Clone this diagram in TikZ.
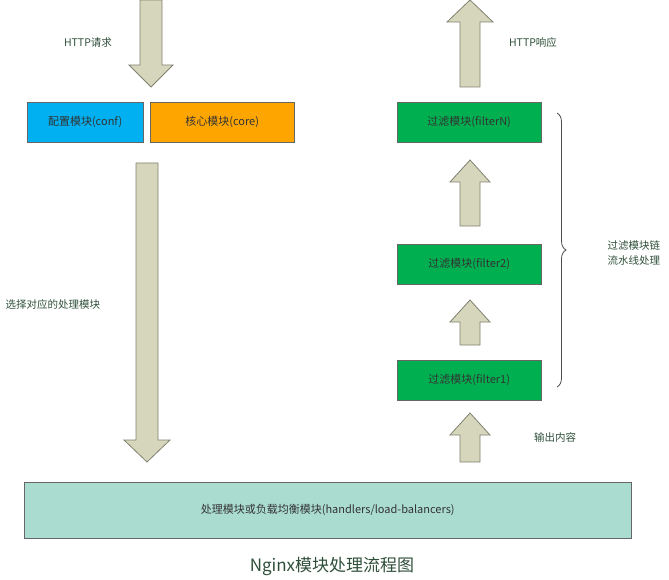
\documentclass[tikz,border=0pt]{standalone}
\usepackage{fontspec}
\setmainfont{Noto Sans CJK SC}
\usetikzlibrary{decorations.pathreplacing}
\definecolor{confblue}{HTML}{00B0F0}
\definecolor{coreorange}{HTML}{FFA500}
\definecolor{filtergreen}{HTML}{00B050}
\definecolor{handlerteal}{HTML}{AADCD0}
\definecolor{arrowfill}{HTML}{D6D6BC}
\definecolor{labelgreen}{HTML}{2F4F3A}
% fat arrow: x centre, start y, tip y, half shaft, half head
\newcommand{\fatarrow}[5]{%
\pgfmathsetmacro{\hy}{#3+(#2>#3?1:-1)*22}%
\draw[arrowfill!60!black,fill=arrowfill,line width=0.8pt]
 (#1-#4,#2)--(#1-#4,\hy)--(#1-#5,\hy)--(#1,#3)--(#1+#5,\hy)--(#1+#4,\hy)--(#1+#4,#2)--cycle;}
\begin{document}
\begin{tikzpicture}[x=1pt,y=-1pt,
  modbox/.style={draw=black!60,minimum height=40pt,anchor=north west,inner sep=0pt,font=\fontsize{11}{13}\selectfont,text=black!80},
  lbl/.style={text=labelgreen,font=\fontsize{10.5}{15}\selectfont}]
\useasboundingbox (0,0) rectangle (669,580);
\node[modbox,fill=confblue,minimum width=116pt] (conf) at (27,102) {配置模块(conf)};
\node[modbox,fill=coreorange,minimum width=144pt] (core) at (150,102) {核心模块(core)};
\node[modbox,fill=filtergreen,minimum width=144pt] (fN) at (397,102) {过滤模块(filterN)};
\node[modbox,fill=filtergreen,minimum width=144pt] (f2) at (397,244) {过滤模块(filter2)};
\node[modbox,fill=filtergreen,minimum width=144pt] (f1) at (397,360) {过滤模块(filter1)};
\node[modbox,fill=handlerteal,minimum width=607pt,minimum height=56pt] (hdl) at (24,482) {处理模块或负载均衡模块(handlers/load-balancers)};

\fatarrow{151}{0}{87}{11}{22}
\fatarrow{147}{163}{462}{11}{23}
\fatarrow{470}{87}{0}{10}{23}
\fatarrow{470}{226}{160}{10}{20}
\fatarrow{470}{345}{300}{10}{20}
\fatarrow{470}{462}{413}{10}{20}

\node[lbl] (req) at (88,43) {HTTP请求};
\node[lbl] (resp) at (533,43) {HTTP响应};
\node[lbl,anchor=west] (sel) at (2,305) {选择对应的处理模块};
\node[lbl] (out) at (555,437) {输出内容};
\draw[decorate,decoration={brace,amplitude=9pt},black!70,line width=0.8pt]
  (557,113) -- (557,387) coordinate[midway] (mid);
\node[lbl,anchor=west,align=left] (chain) at (604,253) {过滤模块链\\流水线处理};
\node[text=labelgreen,font=\fontsize{17}{20}\selectfont] (cap) at (332,566) {Nginx模块处理流程图};
\end{tikzpicture}
\end{document}
